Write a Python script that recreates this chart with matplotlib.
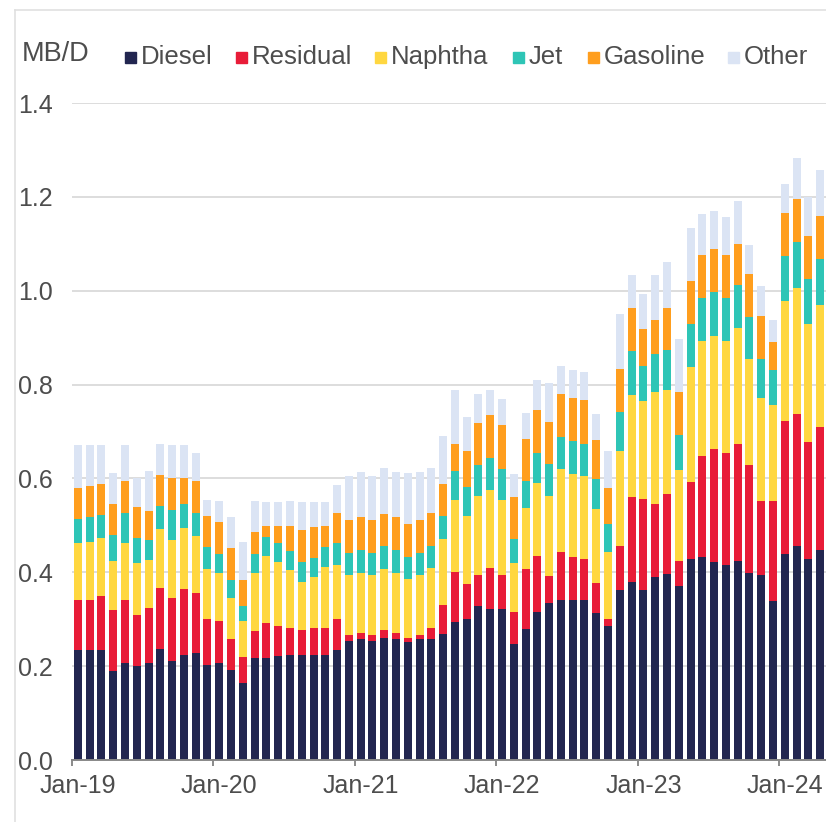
import numpy as np
import pandas as pd
import matplotlib
matplotlib.use("Agg")
import matplotlib.pyplot as plt
from matplotlib.patches import Rectangle
from matplotlib.lines import Line2D

plt.rcParams['font.family'] = ['Liberation Sans', 'DejaVu Sans']

months = pd.date_range('2019-01-01', periods=64, freq='MS')

series = ['Diesel', 'Residual', 'Naphtha', 'Jet', 'Gasoline', 'Other']
colors = ['#222650', '#e81c38', '#ffd740', '#2ec5b6', '#ff9e1e', '#dbe4f4']

diesel = [.234, .234, .234, .190, .207, .201, .207, .236, .212, .224, .229, .202,
          .206, .192, .165, .217, .218, .222, .224, .224, .224, .224, .234, .254,
          .257, .254, .259, .257, .252, .257, .258, .268, .294, .301, .329, .321,
          .321, .248, .279, .316, .334, .340, .340, .340, .313, .285, .363, .379,
          .362, .389, .397, .370, .429, .432, .421, .416, .423, .399, .395, .338,
          .438, .457, .428, .447]
residual = [.106, .108, .116, .129, .134, .108, .116, .131, .134, .141, .126, .099,
            .090, .065, .054, .058, .073, .064, .058, .052, .058, .058, .066, .013,
            .014, .013, .018, .014, .007, .009, .023, .062, .106, .075, .065, .089,
            .073, .068, .127, .119, .059, .103, .093, .088, .064, .016, .092, .182,
            .194, .156, .169, .054, .163, .216, .242, .238, .250, .229, .157, .214,
            .285, .281, .249, .262]
naphtha = [.123, .123, .123, .106, .122, .110, .104, .125, .123, .130, .123, .107,
           .102, .088, .078, .124, .144, .135, .122, .104, .107, .130, .116, .127,
           .128, .127, .131, .128, .126, .128, .128, .140, .155, .145, .168, .166,
           .161, .104, .132, .156, .169, .177, .176, .178, .157, .143, .203, .217,
           .210, .240, .222, .194, .245, .245, .241, .239, .248, .227, .220, .204,
           .256, .268, .253, .260]
jet = [.050, .052, .049, .055, .064, .055, .042, .049, .064, .051, .049, .045,
       .042, .039, .031, .041, .040, .042, .041, .041, .042, .041, .046, .047,
       .049, .047, .049, .049, .047, .047, .048, .049, .060, .061, .066, .067,
       .066, .050, .057, .063, .068, .068, .070, .068, .064, .058, .084, .093,
       .073, .081, .085, .075, .092, .092, .093, .092, .092, .089, .083, .074,
       .095, .098, .095, .098]
gasoline = [.067, .066, .067, .066, .068, .066, .062, .067, .067, .054, .068, .066,
            .067, .067, .056, .045, .024, .035, .054, .069, .066, .046, .065, .070,
            .069, .070, .068, .069, .070, .070, .069, .070, .059, .077, .091, .092,
            .092, .091, .090, .091, .091, .092, .092, .093, .083, .077, .091, .092,
            .079, .072, .091, .092, .092, .092, .092, .092, .086, .091, .092, .061,
            .091, .092, .092, .092]
other = [.091, .088, .082, .065, .076, .060, .085, .066, .071, .071, .059, .035,
         .044, .066, .081, .066, .050, .051, .052, .060, .053, .051, .058, .094,
         .097, .095, .097, .097, .110, .103, .097, .102, .115, .072, .060, .054,
         .056, .048, .055, .065, .082, .060, .060, .059, .056, .080, .117, .070,
         .076, .095, .098, .113, .112, .086, .080, .080, .093, .063, .063, .047,
         .063, .086, .082, .098]

values = [diesel, residual, naphtha, jet, gasoline, other]

W, H = 826, 822
fig = plt.figure(figsize=(W / 100, H / 100), dpi=100)
ax = fig.add_axes([72 / W, 1 - 760 / H, 754 / W, 657 / H])

x = np.arange(len(months))
bottom = np.zeros(len(months))
for name, vals, c in zip(series, values, colors):
    ax.bar(x, vals, width=0.68, bottom=bottom, color=c, label=name, linewidth=0)
    bottom += np.array(vals)

txt = '#4d4d4d'
ax.set_xlim(-0.5, 63.5)
ax.set_ylim(0, 1.4)
ax.set_yticks(np.arange(0, 1.41, 0.2))
ax.set_yticklabels([f'{v:.1f}' for v in np.arange(0, 1.41, 0.2)])
ax.yaxis.grid(True, color='#dddddd', linewidth=1.4)
ax.set_axisbelow(True)

jan = [i for i, m in enumerate(months) if m.month == 1]
ax.set_xticks(jan)
ax.set_xticklabels([months[i].strftime('%b-%y') for i in jan])
ax.set_xticks([i - 0.5 for i in jan], minor=True)
ax.tick_params(axis='x', which='major', length=0, pad=10, labelsize=18, labelcolor=txt)
ax.tick_params(axis='x', which='minor', length=4, width=1.2, color='#777777')
ax.tick_params(axis='y', length=0, pad=14, labelsize=18, labelcolor=txt)

for s in ['top', 'right', 'left']:
    ax.spines[s].set_visible(False)
ax.spines['bottom'].set_color('#888888')
ax.spines['bottom'].set_linewidth(1.4)

# units label and legend across the top
fig.text(22 / W, 1 - 61 / H, 'MB/D', fontsize=19.5, color=txt, va='baseline', ha='left')
legend_x = [125, 236, 375, 513, 588, 728]
for name, c, lx in zip(series, colors, legend_x):
    fig.patches.append(Rectangle((lx / W, 1 - 63 / H), 11 / W, 11 / H,
                                 transform=fig.transFigure, color=c, figure=fig))
    fig.text((lx + 16) / W, 1 - 64 / H, name, fontsize=18.5, color=txt,
             va='baseline', ha='left')

# light frame lines
fig.lines.append(Line2D([15 / W, 1], [1 - 10 / H, 1 - 10 / H], transform=fig.transFigure,
                        color='#e0e0e0', linewidth=1.2))
fig.lines.append(Line2D([15 / W, 15 / W], [0, 1 - 10 / H], transform=fig.transFigure,
                        color='#e0e0e0', linewidth=1.2))

fig.savefig('out.png', dpi=100)
